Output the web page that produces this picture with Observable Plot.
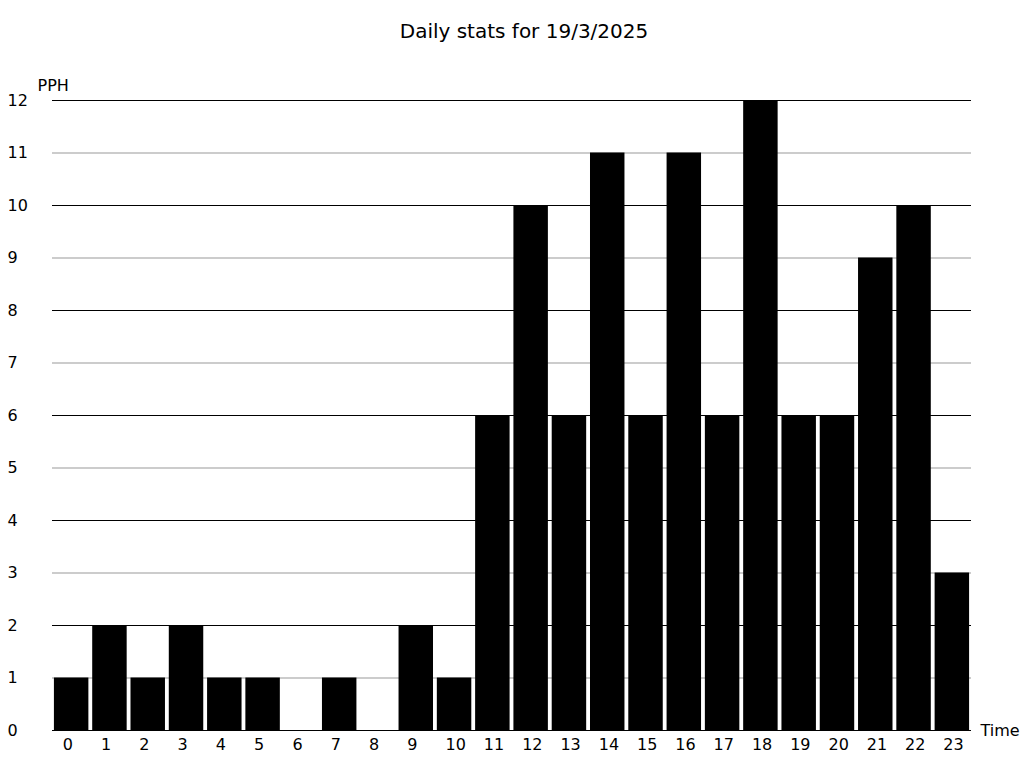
<!DOCTYPE html>
<html>
<head>
<meta charset="utf-8">
<script src="https://cdn.jsdelivr.net/npm/d3@7"></script>
<script src="https://cdn.jsdelivr.net/npm/@observablehq/plot@0.6"></script>
<style>
  html, body { margin: 0; padding: 0; background: #fff; }
  #wrap { position: relative; width: 1024px; height: 768px; font-family: "DejaVu Sans", sans-serif; }
  #title { position: absolute; left: 0; top: 19px; width: 1048px; text-align: center; font-size: 20px; color: #000; }
  svg { display: block; }
</style>
</head>
<body>
<div id="wrap">
  <div id="chart"></div>
  <div id="title">Daily stats for 19/3/2025</div>
</div>
<script>
const hours = d3.range(0, 24).map(String);
const pph = [1, 2, 1, 2, 1, 1, 0, 1, 0, 2, 1, 6, 10, 6, 11, 6, 11, 6, 12, 6, 6, 9, 10, 3];
const yTicks = d3.range(0, 13);
const yLabel = "PPH";
const xLabel = "Time";

const data = hours.map((h, i) => ({hour: h, value: pph[i]}));
const evenTicks = yTicks.filter(d => d % 2 === 0);
const oddTicks = yTicks.filter(d => d % 2 === 1);

const chart = Plot.plot({
  width: 1024,
  height: 768,
  marginTop: 100,
  marginBottom: 38,
  marginLeft: 52,
  marginRight: 53,
  style: {fontFamily: "DejaVu Sans, sans-serif", fontSize: "16px", color: "#000", background: "#fff"},
  x: {type: "band", domain: hours, paddingInner: 0.1, paddingOuter: 0.05, round: false, label: null},
  y: {domain: [0, 12], label: null},
  marks: [
    Plot.ruleY(oddTicks, {stroke: "#bbbbbb", strokeWidth: 1.5}),
    Plot.ruleY(evenTicks, {stroke: "#000", strokeWidth: 1}),
    Plot.barY(data, {x: "hour", y: "value", fill: "#000"}),
    Plot.axisX({tickSize: 0, tickPadding: 8, textAnchor: "start", dx: -9, label: null, fontSize: 16}),
    Plot.axisY({ticks: yTicks, tickSize: 0, tickPadding: 45, textAnchor: "start", label: null, fontSize: 16, tickFormat: d => String(d)}),
    Plot.text([yLabel], {frameAnchor: "top-left", lineAnchor: "middle", dx: -15, dy: -15, textAnchor: "start", fontSize: 16, text: d => d}),
    Plot.text([xLabel], {frameAnchor: "bottom-right", lineAnchor: "middle", dx: 9, textAnchor: "start", fontSize: 16, text: d => d})
  ]
});
document.getElementById("chart").appendChild(chart);
</script>
</body>
</html>
